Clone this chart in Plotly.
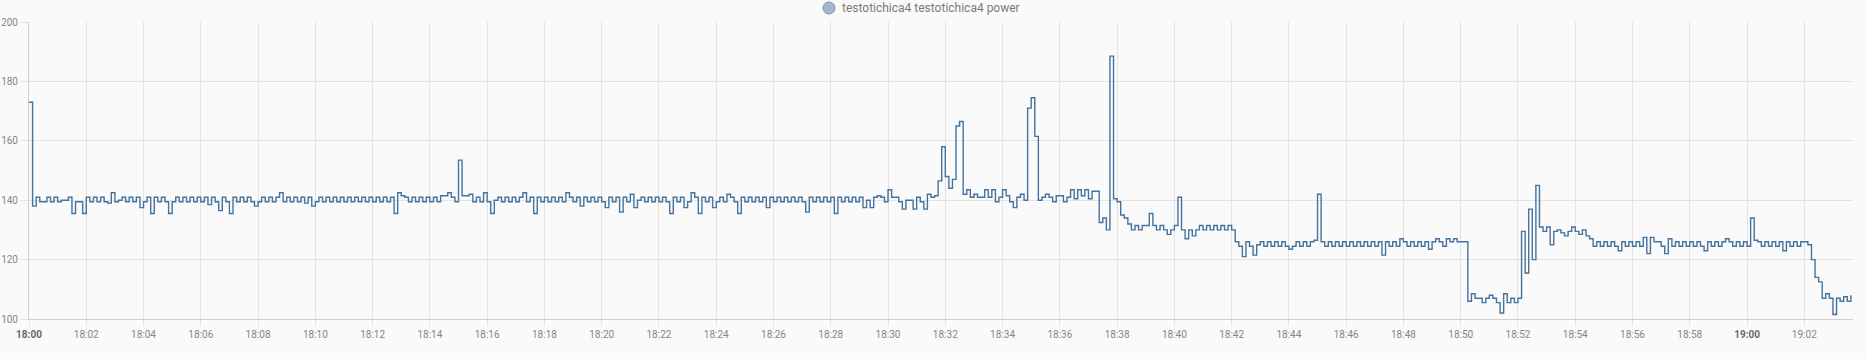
import numpy as np
import pandas as pd
import plotly.graph_objects as go

# ---------------- data ----------------
START = "2024-01-01 18:00:00"
X_END = "2024-01-01 19:03:42"
SAMPLE_SECONDS = 7.5
SERIES_NAME = "testotichica4 testotichica4 power"

# power readings, 8 samples per minute
power_1800_1807 = [
    173, 138, 141, 139.5, 139.5, 141, 139.5, 141,
    139.5, 140, 140, 141, 135.5, 139.5, 139.5, 135.5,
    141, 139.5, 141, 139.5, 141, 139.5, 139, 142.5,
    139.5, 140, 141, 139.5, 141, 139.5, 141, 137.5,
    139.5, 141, 135.5, 141, 139.5, 141, 139.5, 135.5,
    139.5, 141, 139.5, 141, 139.5, 141, 139.5, 141,
    139.5, 141, 138.5, 141, 139.5, 136.5, 141, 139.5,
    135.5, 141, 139.5, 141, 139.5, 141, 139.5, 138,
]
power_1808_1815 = [
    139.5, 141, 139.5, 141, 139.5, 141, 142.5, 139.5,
    141, 139.5, 141, 139.5, 141, 139, 141, 138,
    139.5, 141, 139.5, 141, 139.5, 141, 139.5, 141,
    139.5, 141, 139.5, 141, 139.5, 141, 139.5, 141,
    139.5, 141, 139.5, 141, 139.5, 141, 135.5, 142.5,
    141.5, 141, 139.5, 141, 139.5, 141, 139.5, 141,
    139.5, 141, 139.5, 141.5, 141.5, 142.5, 141, 139.5,
    153.5, 141.5, 141.5, 142, 139.5, 141, 139.5, 142.5,
]
power_1816_1823 = [
    139.5, 135.5, 140, 141, 139.5, 141, 139.5, 141,
    139.5, 141, 142.5, 139.5, 141, 135.5, 141, 139.5,
    141, 139.5, 141, 139.5, 141, 139.5, 142.5, 141,
    139.5, 141, 138, 141, 139.5, 141, 139.5, 141,
    139.5, 137.5, 141, 139.5, 141, 136, 141, 139.5,
    142, 137.5, 140, 141, 139.5, 141, 139.5, 141,
    139.5, 141, 139.5, 135.5, 141, 139.5, 141, 137.5,
    139.5, 142.5, 141, 135.5, 141, 139.5, 141, 137.5,
]
power_1824_1831 = [
    139.5, 141, 139.5, 142, 141, 139.5, 135.5, 141,
    139.5, 141, 139.5, 141, 139.5, 141, 137.5, 141,
    139.5, 141, 139.5, 141, 139.5, 141, 139.5, 141,
    139.5, 136, 141, 139.5, 141, 139.5, 141, 139.5,
    141, 135.5, 141, 139.5, 141, 139.5, 141, 139.5,
    141, 137.5, 140, 137.5, 141, 141.5, 141, 139.5,
    143.5, 141, 141, 139.5, 137, 140, 140, 137,
    141, 139.5, 137, 142, 141, 141.5, 146.5, 158,
]
power_1832_1839 = [
    148, 144, 147, 165, 166.5, 142, 143.5, 141,
    142, 141, 141, 143.5, 141, 143.5, 139.5, 141,
    143.5, 141.5, 139.5, 137.5, 141, 142, 140, 171,
    174.5, 161.5, 140, 141, 142, 141, 139.5, 141.5,
    141.5, 139.5, 141, 143.5, 140.5, 143.5, 141.5, 143.5,
    140.5, 143, 143, 132.5, 134, 130, 188.5, 140.5,
    139.5, 135, 134, 132, 130, 131.5, 130, 131.5,
    131.5, 135.5, 131.5, 130, 131.5, 130, 128.5, 130,
]
power_1840_1847 = [
    131.5, 141, 130, 127, 130, 128, 130, 131.5,
    130, 131.5, 130, 131.5, 130, 131.5, 130, 131.5,
    130, 126, 124.5, 121, 126, 124.5, 121.5, 125,
    126, 124.5, 126, 124.5, 126, 124.5, 126, 124.5,
    123.5, 124.5, 126, 124.5, 126, 124.5, 126, 126.5,
    142, 126, 124.5, 126, 124.5, 126, 124.5, 126,
    124.5, 126, 124.5, 126, 124.5, 126, 124.5, 126,
    124.5, 126, 121.5, 126, 124.5, 126, 124.5, 127,
]
power_1848_1855 = [
    126, 124.5, 126, 124.5, 126, 124.5, 126, 123.5,
    126, 127, 126, 124.5, 127, 126, 127, 126,
    126, 126, 106, 108.5, 107, 107, 105.5, 107,
    108, 107, 105.5, 102, 108.5, 105.5, 107, 105.5,
    107, 129.5, 115.5, 137, 120, 145, 131, 129.5,
    131, 125, 129.5, 130, 129, 128, 129.5, 131,
    129.5, 128.5, 130, 128, 127, 124.5, 126, 124.5,
    126, 124.5, 126, 124.5, 123, 126, 124.5, 126,
]
power_1856_1903 = [
    124.5, 126, 124.5, 127.5, 122, 127.5, 126, 126,
    124.5, 122, 127, 124.5, 126, 124.5, 126, 124.5,
    126, 124.5, 126, 124.5, 123, 126, 124.5, 126,
    124.5, 126, 127, 126, 124.5, 126, 124.5, 126,
    124.5, 134, 126.5, 126, 124.5, 126, 124.5, 126,
    124.5, 126, 123, 126, 124.5, 126, 124.5, 126,
    126, 125, 120, 114, 112.5, 107, 108.5, 107,
    101.5, 107, 106, 107.5, 106, 108,
]

Y_TICKS = [100, 120, 140, 160, 180, 200]
X_TICK_LABELS = ["18:00", "18:02", "18:04", "18:06", "18:08", "18:10", "18:12",
                 "18:14", "18:16", "18:18", "18:20", "18:22", "18:24", "18:26",
                 "18:28", "18:30", "18:32", "18:34", "18:36", "18:38", "18:40",
                 "18:42", "18:44", "18:46", "18:48", "18:50", "18:52", "18:54",
                 "18:56", "18:58", "19:00", "19:02"]

values = (power_1800_1807 + power_1808_1815 + power_1816_1823 + power_1824_1831
          + power_1832_1839 + power_1840_1847 + power_1848_1855 + power_1856_1903)
times = pd.Timestamp(START) + pd.to_timedelta(np.arange(len(values)) * SAMPLE_SECONDS, unit="s")

tick_vals = [pd.Timestamp("2024-01-01 " + t) for t in X_TICK_LABELS]
tick_text = [("<b><span style='color:#6a6a6a'>%s</span></b>" % t) if t.endswith(":00") else t
             for t in X_TICK_LABELS]

# ---------------- layout ----------------
W, H = 1866, 359
ML, MR, MT, MB = 29, 13, 22, 40
PW, PH = W - ML - MR, H - MT - MB
LINE = "#44739e"
GRID = "#e3e3e3"
AXIS = "#cfcfcf"
TXT = "#858585"
LEGEND_Y = 8  # pixel row of the legend centre


def px_x(x):
    return (x - ML) / PW


def px_y(y):
    return (H - MB - y) / PH


fig = go.Figure()
fig.add_trace(go.Scatter(
    x=times, y=values, mode="lines", line=dict(shape="hv", color=LINE, width=1.4),
    name=SERIES_NAME, showlegend=False, hoverinfo="skip"))

fig.update_layout(
    width=W, height=H,
    margin=dict(l=ML, r=MR, t=MT, b=MB, autoexpand=False),
    paper_bgcolor="#fafafa", plot_bgcolor="#fafafa",
    font=dict(family="Roboto", size=10, color=TXT),
    showlegend=False,
    xaxis=dict(
        range=[pd.Timestamp(START), pd.Timestamp(X_END)],
        tickmode="array", tickvals=tick_vals, ticktext=tick_text,
        showgrid=True, gridcolor=GRID, gridwidth=1,
        ticks="outside", ticklen=6, tickcolor=GRID,
        showline=True, linecolor=AXIS, linewidth=1,
        zeroline=False, tickfont=dict(size=10, color=TXT),
    ),
    yaxis=dict(
        range=[100, 200], tickmode="array", tickvals=Y_TICKS,
        showgrid=True, gridcolor=GRID, gridwidth=1,
        ticks="outside", ticklen=8, tickcolor=GRID,
        showline=True, linecolor=AXIS, linewidth=1,
        zeroline=False, tickfont=dict(size=10, color=TXT),
    ),
    shapes=[dict(
        type="circle", xref="paper", yref="paper",
        xsizemode="pixel", ysizemode="pixel",
        xanchor=px_x(829), yanchor=px_y(LEGEND_Y),
        x0=-6, x1=6, y0=-6, y1=6,
        fillcolor="#a3b6cc", line=dict(color="#7892b2", width=1),
    )],
    annotations=[dict(
        text=SERIES_NAME, xref="paper", yref="paper",
        x=px_x(840), y=px_y(LEGEND_Y), xanchor="left", yanchor="middle",
        showarrow=False, font=dict(family="Roboto", size=12, color="#7a7a7a"),
    )],
)

fig.write_html("out.html")
